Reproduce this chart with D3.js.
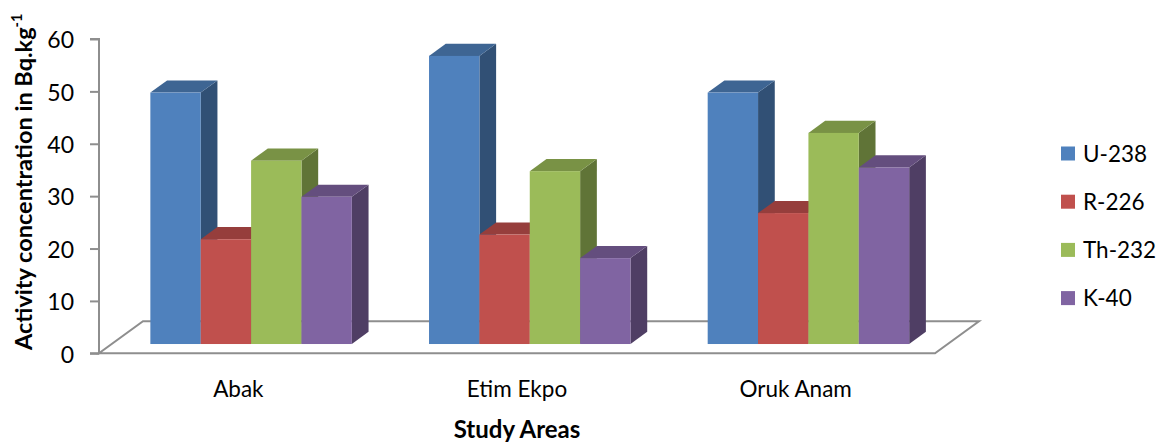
<!DOCTYPE html>
<html>
<head>
<meta charset="utf-8">
<script src="https://cdn.jsdelivr.net/npm/d3@7"></script>
<style>
  html, body { margin: 0; padding: 0; background: #fff; }
  svg { display: block; }
  text { font-family: Lato, "Open Sans", sans-serif; fill: #000; }
</style>
</head>
<body>
<svg id="chart" width="1166" height="445"></svg>
<script>
// Activity concentration (Bq/kg) by study area
const categories = ["Abak", "Etim Ekpo", "Oruk Anam"];
const seriesNames = ["U-238", "R-226", "Th-232", "K-40"];
const u238 = [48.0, 55.0, 48.0];
const r226 = [20.0, 20.9, 25.0];
const th232 = [35.0, 33.0, 40.3];
const k40 = [28.1, 16.4, 33.7];
const yTicks = [0, 10, 20, 30, 40, 50, 60];
const colors = ["#4F81BD", "#C0504D", "#9BBB59", "#8064A2"];

const seriesValues = [u238, r226, th232, k40];

const svg = d3.select("#chart");

// plot frame: front edge of the floor and its receding depth vector
const floorX = 99, floorW = 836;
const depthDX = 44, depthDY = 32;
const barFront = 0.29, barDepth = 0.38;

const y = d3.scaleLinear().domain([0, 60]).range([353.3, 39]);
const x0 = d3.scaleBand().domain(categories).range([0, floorW]);
const B = x0.bandwidth();
const x1 = d3.scaleBand().domain(seriesNames).range([B * 0.1385, B * 0.8615]);

const axisColor = "#8e8e8e";

// floor
const y0 = y(0);
svg.append("polygon")
  .attr("points", [
    [floorX, y0], [floorX + floorW, y0],
    [floorX + floorW + depthDX, y0 - depthDY], [floorX + depthDX, y0 - depthDY]
  ].map(p => p.join(",")).join(" "))
  .attr("fill", "#fff")
  .attr("stroke", axisColor)
  .attr("stroke-width", 2)
  .attr("stroke-linejoin", "miter");

// value axis
const axisG = svg.append("g").attr("transform", `translate(${floorX},0)`);
axisG.call(d3.axisLeft(y).tickValues(yTicks).tickSize(9).tickPadding(16).tickFormat(d3.format("d")));
axisG.select(".domain").attr("stroke", axisColor).attr("stroke-width", 2)
  .attr("d", `M-9,${y(60)}H0V${y(0)}H-9`);
axisG.selectAll(".tick line").attr("stroke", axisColor).attr("stroke-width", 2);
axisG.selectAll(".tick text")
  .attr("font-family", "Lato, 'Open Sans', sans-serif")
  .attr("font-size", 23)
  .attr("fill", "#000")
  .attr("dy", "0.38em");

// 3D columns
const bars = [];
categories.forEach((c, ci) => {
  seriesNames.forEach((s, si) => {
    bars.push({ cat: c, series: s, value: seriesValues[si][ci], color: colors[si] });
  });
});

const sdx = barDepth * depthDX, sdy = barDepth * depthDY;
const shade = (hex, k) => {
  const c = d3.rgb(hex);
  return d3.rgb(c.r * k, c.g * k, c.b * k).formatHex();
};

const barG = svg.append("g");
barG.selectAll("g.bar").data(bars).join("g").attr("class", "bar")
  .each(function (d) {
    const xl = floorX + x0(d.cat) + x1(d.series) + barFront * depthDX;
    const xr = xl + x1.bandwidth();
    const yb = y0 - barFront * depthDY;
    const yt = yb - (y0 - y(d.value));
    const g = d3.select(this);
    const pts = arr => arr.map(p => p.join(",")).join(" ");
    g.append("polygon")
      .attr("points", pts([[xr, yt], [xr + sdx, yt - sdy], [xr + sdx, yb - sdy], [xr, yb]]))
      .attr("fill", shade(d.color, 0.62));
    g.append("polygon")
      .attr("points", pts([[xl, yt], [xr, yt], [xr + sdx, yt - sdy], [xl + sdx, yt - sdy]]))
      .attr("fill", shade(d.color, 0.78));
    g.append("rect")
      .attr("x", xl).attr("y", yt)
      .attr("width", xr - xl).attr("height", yb - yt)
      .attr("fill", d.color);
  });

// category labels
svg.append("g").selectAll("text").data(categories).join("text")
  .attr("x", d => floorX + x0(d) + B / 2)
  .attr("y", 396.5)
  .attr("text-anchor", "middle")
  .attr("font-size", 22.5)
  .text(d => d);

// axis titles
svg.append("text")
  .attr("x", floorX + floorW / 2)
  .attr("y", 438)
  .attr("text-anchor", "middle")
  .attr("font-size", 24)
  .attr("font-weight", "bold")
  .text("Study Areas");

const yTitle = svg.append("text")
  .attr("transform", "translate(32,350) rotate(-90)")
  .attr("text-anchor", "start")
  .attr("font-size", 23.5)
  .attr("font-weight", "bold");
yTitle.append("tspan").text("Activity concentration in Bq.kg");
yTitle.append("tspan").attr("dy", -10).attr("font-size", 14.5).text("-1");

// legend
const legend = svg.append("g").selectAll("g").data(seriesNames).join("g")
  .attr("transform", (d, i) => `translate(1061,${153.5 + i * 48.2})`);
legend.append("rect")
  .attr("x", 0).attr("y", -7).attr("width", 14).attr("height", 14)
  .attr("fill", (d, i) => colors[i]);
legend.append("text")
  .attr("x", 22).attr("y", 0).attr("dy", "0.36em")
  .attr("font-size", 22.5)
  .text(d => d);
</script>
</body>
</html>
